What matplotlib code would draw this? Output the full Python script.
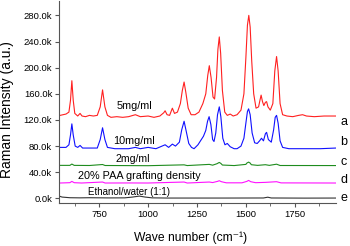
import matplotlib
matplotlib.use("Agg")
import matplotlib.pyplot as plt
from matplotlib.ticker import FuncFormatter, MultipleLocator

plt.rcParams['font.family'] = ['Liberation Sans', 'DejaVu Sans']

# spectra: wave number (cm-1), intensity (k counts)
wn_a = [550, 565, 580, 595, 603, 610, 617, 625, 640, 652, 662, 680, 700, 720, 740, 755, 767, 779, 792,
        810, 840, 870, 900, 935, 960, 1000, 1030, 1060, 1080, 1087, 1097, 1110, 1124, 1135, 1150, 1165,
        1175, 1184, 1193, 1205, 1220, 1240, 1260, 1280, 1295, 1305, 1313, 1322, 1332, 1340, 1350, 1357,
        1364, 1371, 1380, 1392, 1405, 1420, 1435, 1455, 1475, 1490, 1500, 1508, 1515, 1522, 1530, 1540,
        1552, 1565, 1572, 1578, 1585, 1592, 1600, 1606, 1613, 1625, 1638, 1648, 1657, 1665, 1675, 1688,
        1710, 1740, 1770, 1790, 1810, 1850, 1900, 1960]
int_a = [127, 128, 129, 132, 150, 180, 150, 130, 126, 130, 126, 125, 127, 126, 127, 140, 166, 140, 127,
         124, 125, 124, 125, 128, 125, 126, 124, 126, 131, 134, 128, 127, 138, 130, 132, 145,
         165, 178, 162, 138, 128, 128, 132, 145, 160, 188, 203, 185, 155, 152, 185, 228,
         247, 222, 165, 132, 127, 129, 126, 128, 135, 160, 215, 265, 280, 262, 210, 160,
         138, 140, 150, 158, 148, 142, 147, 148, 140, 135, 145, 195, 217, 195, 145, 128,
         126, 125, 127, 128, 126, 125, 126, 126]

wn_b = [550, 580, 595, 603, 610, 617, 627, 640, 652, 665, 700, 740, 755, 767, 779, 792, 830, 900, 935,
        960, 1000, 1040, 1087, 1105, 1124, 1140, 1160, 1172, 1184, 1194, 1208, 1222, 1235, 1255, 1270,
        1283, 1295, 1304, 1312, 1321, 1330, 1337, 1346, 1355, 1364, 1372, 1382, 1393, 1405, 1420, 1440,
        1455, 1475, 1490, 1500, 1508, 1514, 1522, 1532, 1545, 1558, 1570, 1580, 1590, 1600, 1606, 1615,
        1630, 1642, 1650, 1657, 1665, 1675, 1688, 1720, 1800, 1880, 1960]
int_b = [78, 78, 82, 97, 114, 97, 80, 78, 81, 77, 77, 77, 90, 108, 90, 78, 76, 76, 78,
         76, 78, 76, 82, 78, 83, 80, 86, 105, 118, 104, 84, 78, 76, 82, 89,
         95, 104, 118, 125, 113, 90, 87, 100, 128, 140, 125, 92, 82, 84, 79, 76,
         76, 80, 92, 115, 133, 137, 128, 100, 85, 84, 88, 92, 88, 99, 101, 90,
         86, 105, 124, 127, 115, 88, 78, 76, 76, 76, 77]

wn_c = [550, 600, 610, 622, 700, 767, 780, 1000, 1184, 1200, 1313, 1330, 1352, 1364, 1372, 1380, 1440,
        1500, 1505, 1514, 1522, 1528, 1560, 1600, 1620, 1657, 1675, 1960]
int_c = [50.5, 50.5, 52.5, 50.5, 50.3, 51.8, 50.3, 50, 51.3, 50.2, 52, 50.8, 53, 55, 53.5, 51, 50.2,
         52, 54, 55.5, 54, 51.5, 50.5, 51.5, 50.5, 52.3, 50.3, 50.2]

wn_d = [550, 600, 610, 622, 660, 767, 780, 900, 1000, 1184, 1200, 1313, 1330, 1355, 1364, 1375, 1400,
        1480, 1505, 1514, 1525, 1550, 1600, 1657, 1680, 1960]
int_d = [23.5, 24, 26, 24, 23.5, 25, 23.5, 23.6, 23.5, 25, 23.5, 25, 24.2, 26, 27, 25.5, 23.8,
         23.8, 26, 27.5, 25.5, 24, 24.5, 25.5, 23.7, 23.5]

wn_e = [550, 560, 580, 600, 650, 700, 800, 880, 920, 955, 985, 1020, 1100, 1200, 1400, 1590, 1612,
        1630, 1800, 1960]
int_e = [3, 2, 1.5, 1, 0.8, 1, 0.7, 0.8, 2, 3.5, 2, 0.8, 0.5, 0.5, 0.5, 0.6, 1.8, 0.6, 0.4, 0.5]

series = [(wn_a, int_a, '#ff2020'), (wn_b, int_b, '#1010ff'), (wn_c, int_c, '#1e8c1e'),
          (wn_d, int_d, '#ff10ff'), (wn_e, int_e, '#333333')]

notes = ['5mg/ml', '10mg/ml', '2mg/ml', '20% PAA grafting density', 'Ethanol/water (1:1)']
note_x = [928, 928, 923, 954, 903]
note_y = [142, 88, 60, 34.7, 9.8]
note_size = [7.8, 7.8, 7.6, 7.8, 7.0]
letters = ['a', 'b', 'c', 'd', 'e']
letter_y = [117.6, 85.5, 55.6, 28.5, 0.6]

fig = plt.figure(figsize=(3.5, 2.46), dpi=100)
ax = fig.add_axes([0.169, 0.175, 0.791, 0.821])

for x, y, c in series:
    ax.plot(x, y, color=c, lw=0.8)

for t, x, y, fs in zip(notes, note_x, note_y, note_size):
    ax.text(x, y, t, ha='center', va='center', fontsize=fs)
for t, y in zip(letters, letter_y):
    ax.text(2001, y, t, ha='center', va='center', fontsize=9, clip_on=False)

ax.set_xlim(545, 1961)
ax.set_ylim(-7, 302)
ax.xaxis.set_major_locator(MultipleLocator(250))
ax.xaxis.set_minor_locator(MultipleLocator(125))
ax.yaxis.set_major_locator(MultipleLocator(40))
ax.yaxis.set_major_formatter(FuncFormatter(lambda v, p: f"{v:.1f}k"))

for s in ['top', 'right']:
    ax.spines[s].set_visible(False)
for s in ['left', 'bottom']:
    ax.spines[s].set_color('#555555')
    ax.spines[s].set_linewidth(0.8)
ax.tick_params(which='both', direction='out', colors='#555555', labelcolor='black', labelsize=6.8, pad=2)
ax.tick_params(which='major', length=3)
ax.tick_params(which='minor', length=2)

fig.text(7.5 / 350, 1 - 110 / 246, 'Raman Intensity (a.u.)', rotation=90, ha='center', va='center',
         fontsize=10)
fig.text(191 / 350, 1 - 237.5 / 246, 'Wave number (cm\u207b\u00b9)', ha='center', va='center', fontsize=8.7)

fig.savefig('out.png', dpi=100)
